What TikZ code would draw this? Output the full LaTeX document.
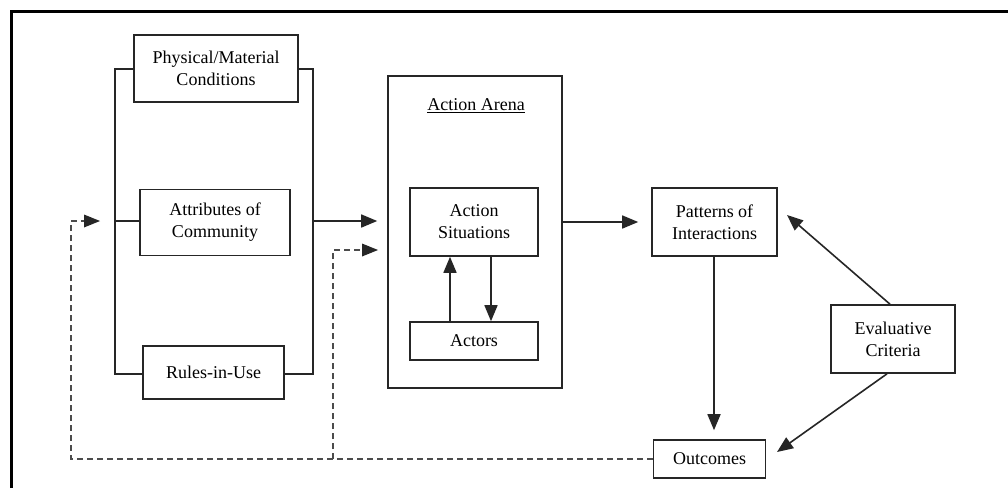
\documentclass[tikz,border=0pt]{standalone}
\usepackage{fontspec}
\setmainfont{Liberation Serif}
\usetikzlibrary{arrows.meta,calc}
\begin{document}
\begin{tikzpicture}[x=1pt,y=-1pt,
  box/.style={draw=black!85,line width=1.6pt,rectangle,inner sep=0pt,align=center,
    font=\fontsize{18}{22}\selectfont},
  conn/.style={draw=black!85,line width=1.6pt,-{Triangle[length=16pt,width=13pt]}},
  fb/.style={draw=black!70,line width=1.6pt,dash pattern=on 6pt off 4pt},
  line/.style={draw=black!85,line width=1.6pt}]
\useasboundingbox[fill=white] (0,0) rectangle (1008,488);
% frame
\draw[line width=3pt] (11,488) -- (11,11) -- (1008,11);
% left group
\node[box,minimum width=164pt,minimum height=67pt] (phys) at (216,68.5) {Physical/Material\\Conditions};
\node[box,minimum width=150pt,minimum height=66pt] (attr) at (215,222.5) {Attributes of\\Community};
\node[box,minimum width=141pt,minimum height=53pt] (rules) at (213.5,372.5) {Rules-in-Use};
\coordinate (bl) at (115,69);
\coordinate (br) at (313,69);
\coordinate (bbl) at (115,374);
\coordinate (bbr) at (313,374);
\coordinate (bmid) at (313,221);
\draw[line] (phys.west |- bl) -- (bl) -- (bbl) -- (rules.west |- bbl);
\draw[line] (phys.east |- br) -- (br) -- (bbr) -- (rules.east |- bbr);
\draw[line] (attr.west |- 0,221) -- (115,221);
% action arena
\node[box,minimum width=174pt,minimum height=312pt] (arena) at (475,232) {};
\node[font=\fontsize{18}{22}\selectfont,inner sep=0pt] (title) at (476,106) {\underline{Action Arena}};
\node[box,minimum width=128pt,minimum height=68pt] (sit) at (474,222) {Action\\Situations};
\node[box,minimum width=128pt,minimum height=38pt] (act) at (474,341) {Actors};
\draw[conn] (act.north -| 450,0) -- (sit.south -| 450,0);
\draw[conn] (sit.south -| 491,0) -- (act.north -| 491,0);
% arrow into arena
\draw[conn,shorten >=10pt] (bmid) -- (arena.west |- bmid);
% right part
\node[box,minimum width=125pt,minimum height=68pt] (pat) at (714.5,222) {Patterns of\\Interactions};
\node[box,minimum width=112pt,minimum height=38pt] (out) at (709.5,459) {Outcomes};
\node[box,minimum width=124pt,minimum height=68pt] (eval) at (893,339) {Evaluative\\Criteria};
\draw[conn,shorten >=13pt] (arena.east |- 0,222) -- (pat.west |- 0,222);
\draw[conn,shorten >=9pt] (pat.south -| 714,0) -- (out.north -| 714,0);
\coordinate (t1) at (787,215);
\coordinate (t2) at (777,452);
\draw[conn] (eval.north -| 890,0) -- (t1);
\draw[conn] (eval.south -| 887,0) -- (t2);
% feedback dashed
\coordinate (fl) at (71,459);
\coordinate (fm) at (333,459);
\coordinate (fa) at (100,221);
\coordinate (fb2) at (378,250);
\draw[fb] (out.west |- fl) -- (fl) -- (71,221) -- (86,221);
\draw[fb] (fm) -- (333,250) -- (364,250);
\fill[black!85] (fa) -- ++(-16,-6.5) -- ++(0,13) -- cycle;
\fill[black!85] (fb2) -- ++(-16,-6.5) -- ++(0,13) -- cycle;
\end{tikzpicture}
\end{document}
